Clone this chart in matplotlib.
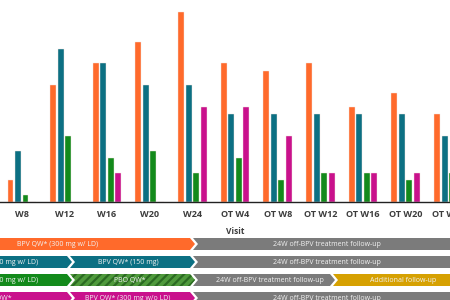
import numpy as np
import matplotlib.pyplot as plt
from matplotlib.patches import Polygon

plt.rcParams["font.family"] = ["Open Sans", "DejaVu Sans"]
plt.rcParams["hatch.linewidth"] = 1.6

# Visits and patient counts per arm
visits = ["W8", "W12", "W16", "W20", "W24", "OT W4", "OT W8",
          "OT W12", "OT W16", "OT W20", "OT W24"]
arm_orange = [3, 16, 19, 22, 26, 19, 18, 19, 13, 15, 12]
arm_teal = [7, 21, 19, 16, 16, 12, 12, 12, 12, 12, 9]
arm_green = [1, 9, 6, 7, 4, 6, 3, 4, 4, 3, 4]
arm_magenta = [0, 0, 4, 0, 13, 13, 9, 4, 4, 4, 4]

colors = ["#ff6a2b", "#0c7083", "#138a1b", "#c9118c"]
grey = "#7b7b7b"
gold = "#d6a102"

# Treatment timeline rows: labels per segment
row_labels = [
    ["BPV QW* (300 mg w/ LD)", "24W off-BPV treatment follow-up"],
    ["BPV QW* (300 mg w/ LD)", "BPV QW* (150 mg)", "24W off-BPV treatment follow-up"],
    ["BPV QW* (300 mg w/ LD)", "PBO QW*", "24W off-BPV treatment follow-up",
     "Additional follow-up"],
    ["PBO QW*", "BPV QW* (300 mg w/o LD)", "24W off-BPV treatment follow-up"],
]

fig = plt.figure(figsize=(4.5, 3), dpi=100)

# --- bar chart ---
ax = fig.add_axes([0, (300 - 202) / 300, 1, 202 / 300])
x = np.arange(len(visits))
w = 0.14
pitch = 0.176
for k, (vals, c) in enumerate(zip([arm_orange, arm_teal, arm_green, arm_magenta], colors)):
    ax.bar(x + (k - 1.5) * pitch, vals, width=w, color=c,
           edgecolor="#f4e6e0", linewidth=0.3)

ax.set_xlim(-0.51, 10.04)
ax.set_ylim(0, 27.7)
ax.set_xticks(x)
ax.set_xticklabels(visits, fontsize=6.5, fontweight="bold", color="#3c3c3c")
ax.tick_params(axis="x", length=0, pad=6)
ax.set_yticks([])
for s in ["top", "right", "left"]:
    ax.spines[s].set_visible(False)
ax.spines["bottom"].set_linewidth(1.0)
ax.spines["bottom"].set_color("#222222")
ax.set_xlabel("Visit", fontsize=6, fontweight="bold", color="#3c3c3c", labelpad=3)
ax.xaxis.set_label_coords(235 / 450, -(229 - 202) / 202 + 0.01)

# --- timeline arrows (pixel coordinates) ---
tl = fig.add_axes([0, 0, 1, 1])
tl.set_xlim(0, 450)
tl.set_ylim(300, 0)
tl.axis("off")


def chevron(x0, x1, y0, h, notch, d=5):
    ym = y0 + h / 2
    pts = [(x0, y0), (x1 - d, y0), (x1, ym), (x1 - d, y0 + h), (x0, y0 + h)]
    if notch:
        pts.append((x0 + d, ym))
    return pts


row_tops = [238, 256, 274, 292]
h = 12
segments = [
    [(-10, 195, colors[0], False), (193, 470, grey, False)],
    [(-10, 72, colors[1], False), (70, 195, colors[1], False), (193, 470, grey, False)],
    [(-10, 72, colors[2], False), (70, 195, "#4f9a3c", True), (193, 335, grey, False),
     (333, 470, gold, False)],
    [(-10, 72, colors[3], False), (70, 195, colors[3], False), (193, 470, grey, False)],
]
text_pos = [
    [(58, "center"), (327, "center")],
    [(38, "right"), (128, "center"), (327, "center")],
    [(38, "right"), (130, "center"), (270, "center"), (403, "center")],
    [(12, "right"), (128, "center"), (327, "center")],
]

for top, segs, labels, tpos in zip(row_tops, segments, row_labels, text_pos):
    for (x0, x1, c, hatched), lab, (tx, ha) in zip(segs, labels, tpos):
        poly = Polygon(chevron(x0, x1, top, h, x0 > 0), closed=True,
                       facecolor=c, edgecolor="#2b6a22" if hatched else "none",
                       hatch="////" if hatched else None, linewidth=0)
        tl.add_patch(poly)
        tl.text(tx, top + h / 2 + 0.3, lab, ha=ha, va="center", fontsize=5,
                color="#f2f2f2")

fig.savefig("out.png", dpi=100)
